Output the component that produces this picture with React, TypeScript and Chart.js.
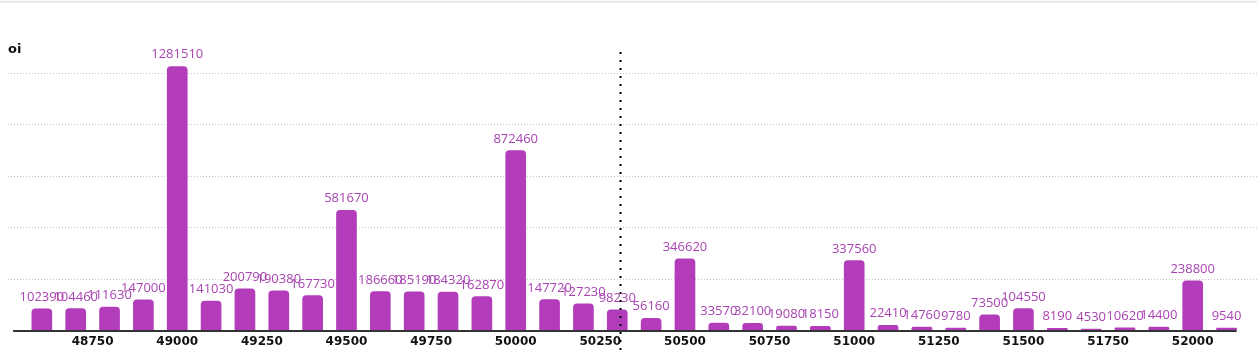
import React, { useEffect, useRef } from "react";
import { Chart, registerables } from "chart.js";

Chart.register(...registerables);

const strikes = [
  48600, 48700, 48800, 48900, 49000, 49100, 49200, 49300, 49400, 49500, 49600, 49700,
  49800, 49900, 50000, 50100, 50200, 50300, 50400, 50500, 50600, 50700, 50800, 50900,
  51000, 51100, 51200, 51300, 51400, 51500, 51600, 51700, 51800, 51900, 52000, 52100,
];
const oiValues = [
  102390, 104460, 111630, 147000, 1281510, 141030, 200790, 190380, 167730, 581670, 186660, 185190,
  184320, 162870, 872460, 147720, 127230, 98230, 56160, 346620, 33570, 32100, 19080, 18150,
  337560, 22410, 14760, 9780, 73500, 104550, 8190, 4530, 10620, 14400, 238800, 9540,
];
const tickLabels = [48750, 49000, 49250, 49500, 49750, 50000, 50250, 50500, 50750, 51000, 51250, 51500, 51750, 52000];
const yGridValues = [250000, 500000, 750000, 1000000, 1250000];
const spotPrice = 50308;
const axisTitle = "oi";

const BAR = "#b23cb9";
const LABEL = "#a944b2";

export default function App() {
  const ref = useRef<HTMLCanvasElement | null>(null);
  useEffect(() => {
    document.body.style.margin = "0";
    const canvas = ref.current!;
    const decor = {
      id: "decor",
      beforeDatasetsDraw(chart: any) {
        const ctx = chart.ctx;
        const y = chart.scales.y;
        ctx.save();
        ctx.fillStyle = "#e3e3e3";
        ctx.fillRect(0, 1, chart.width, 1.5);
        ctx.strokeStyle = "#c4c4c4";
        ctx.lineWidth = 1;
        ctx.setLineDash([1, 2]);
        yGridValues.forEach((v) => {
          const py = Math.round(y.getPixelForValue(v)) + 0.5;
          ctx.beginPath();
          ctx.moveTo(8, py);
          ctx.lineTo(chart.width, py);
          ctx.stroke();
        });
        ctx.restore();
      },
      afterDatasetsDraw(chart: any) {
        const ctx = chart.ctx;
        const x = chart.scales.x;
        const area = chart.chartArea;
        ctx.save();
        // baseline
        ctx.strokeStyle = "#333333";
        ctx.lineWidth = 2;
        ctx.beginPath();
        ctx.moveTo(x.getPixelForValue(48515), area.bottom + 1);
        ctx.lineTo(x.getPixelForValue(52130), area.bottom + 1);
        ctx.stroke();
        // value labels
        const meta = chart.getDatasetMeta(0);
        ctx.fillStyle = LABEL;
        ctx.font = "13px 'Open Sans'";
        ctx.textAlign = "center";
        ctx.textBaseline = "alphabetic";
        meta.data.forEach((el: any, i: number) => {
          ctx.fillText(String(oiValues[i]), el.x, el.y - 8);
        });
        // spot line
        const sx = Math.round(x.getPixelForValue(spotPrice)) + 0.5;
        ctx.strokeStyle = "#000000";
        ctx.lineWidth = 2;
        ctx.setLineDash([2, 6]);
        ctx.beginPath();
        ctx.moveTo(sx, area.top);
        ctx.lineTo(sx, chart.height);
        ctx.stroke();
        ctx.setLineDash([]);
        // title
        ctx.fillStyle = "#111111";
        ctx.font = "bold 13px 'DejaVu Sans'";
        ctx.textAlign = "left";
        ctx.fillText(axisTitle, 8, 53);
        ctx.restore();
      },
    };
    const chart = new Chart(canvas, {
      type: "bar",
      data: {
        datasets: [
          {
            data: strikes.map((s, i) => ({ x: s, y: oiValues[i] })),
            backgroundColor: BAR,
            borderRadius: 4,
            borderSkipped: "bottom",
            barThickness: 20,
          },
        ],
      },
      options: {
        responsive: false,
        animation: false,
        layout: { padding: { top: 52, left: 0, right: 0, bottom: 0 } },
        plugins: { legend: { display: false }, tooltip: { enabled: false } },
        scales: {
          x: {
            type: "linear",
            min: 48500,
            max: 52190,
            offset: false,
            grid: { display: false, drawTicks: false },
            border: { display: false },
            afterBuildTicks: (scale: any) => {
              scale.ticks = tickLabels.map((v) => ({ value: v }));
            },
            afterFit: (scale: any) => {
              scale.height = 21;
            },
            ticks: {
              autoSkip: false,
              maxRotation: 0,
              padding: 5,
              color: "#111111",
              font: { family: "'DejaVu Sans'", size: 12, weight: "bold" },
              callback: (v: any) => String(v),
            },
          },
          y: {
            min: 0,
            max: 1352000,
            grid: { display: false, drawTicks: false },
            border: { display: false },
            afterFit: (scale: any) => {
              scale.width = 8;
            },
            ticks: { display: false },
          },
        },
      },
      plugins: [decor],
    });
    return () => chart.destroy();
  }, []);
  return <canvas ref={ref} width={1257} height={351} style={{ display: "block" }} />;
}
